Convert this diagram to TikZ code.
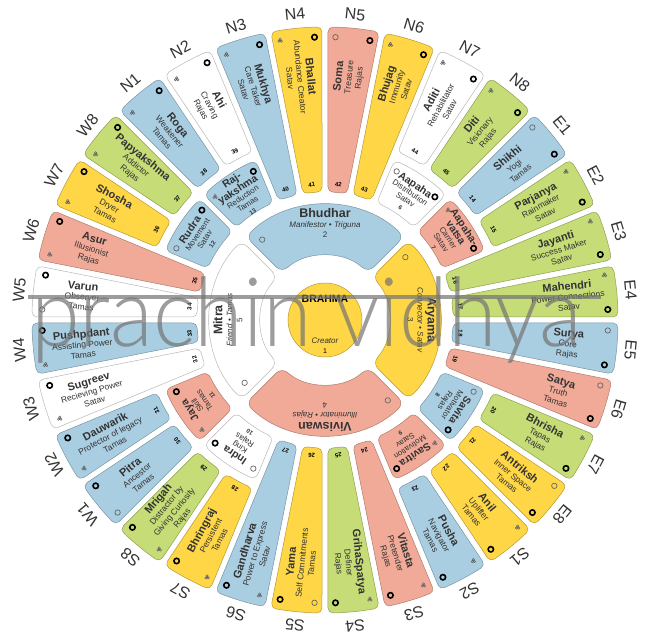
\documentclass[tikz,border=0pt]{standalone}
\usepackage{fontspec}
\setmainfont{Liberation Sans}
\newfontfamily\wmfont{Lato Light}
\definecolor{SegBlue}{RGB}{170,206,225}
\definecolor{SegYellow}{RGB}{254,214,70}
\definecolor{SegRose}{RGB}{242,170,152}
\definecolor{SegGreen}{RGB}{198,220,118}
\definecolor{SegWhite}{RGB}{255,255,255}

\newcommand{\segname}{\fontsize{11}{11}\selectfont\bfseries}
\newcommand{\midname}{\fontsize{10.5}{10}\selectfont\bfseries}
\newcommand{\ringname}{\fontsize{12.5}{12.5}\selectfont\bfseries}
\newcommand{\segno}{\fontsize{6}{6}\selectfont\bfseries}

\newcommand{\vsector}[6]{%
  \filldraw[fill=#5,draw=#5!72!black,line width=.5pt,rounded corners=#6]
    ({#1-#2+asin(3/((#3+#4)/2))}:{(#3+#4)/2}) -- ({#1-#2+asin(3/#4)}:#4)
    arc[start angle={#1-#2+asin(3/#4)},end angle={#1+#2-asin(3/#4)},radius=#4]
    -- ({#1+#2-asin(3/#3)}:#3)
    arc[start angle={#1+#2-asin(3/#3)},end angle={#1-#2+asin(3/#3)},radius=#3]
    -- cycle;}
\newcommand{\cicon}[2]{\draw[line width=1.6pt] ({#1}:#2) circle (2.7);}
\newcommand{\oicon}[2]{\draw[black!60,line width=.7pt] ({#1}:#2) circle (2.7);}
\newcommand{\ticon}[2]{\draw[black!60,line width=.5pt] ({#1}:#2) +(90:1.4) circle (1.1) +(210:1.4) circle (1.1) +(330:1.4) circle (1.1);}

\newcommand{\outerseg}[8]{%
  \vsector{#1}{5.625}{#2}{293}{#3}{5pt}
  \pgfmathsetmacro\txtrot{cos(#1)>=0 ? #1 : #1+180}
  \node[segtext,rotate=\txtrot] (t#6) at ({#1}:244) {{\segname #4}\\#5};
  \node[numtext,rotate=#1-90] (n#6) at ({#1}:{#2+8}) {#6};
  \node[dirlabel,rotate=#1-90] (l#8) at ({#1}:307) {#8};
  \cicon{#1-3.5}{283}
  \if o#7\oicon{#1+3.5}{283}\else\ticon{#1+3.5}{283}\fi}

\newcommand{\midseg}[6]{%
  \vsector{#1}{11.25}{128}{174}{#2}{6pt}
  \node[midtext,rotate=#1-90] (t#5) at ({#1}:150) {#3\\#4\\{\segno #5}};
  \cicon{#1-8}{165}
  \if o#6\oicon{#1+8}{165}\else\ticon{#1+8}{165}\fi}

\newcommand{\ringseg}[5]{%
  \vsector{#1}{45}{64}{115}{#2}{8pt}
  \node[ringtext,rotate=#1-90] (t#5) at ({#1}:97) {{\ringname #3}\\{\itshape #4}\\#5};
  \oicon{#1+38}{102}}

\begin{document}
\begin{tikzpicture}[x=1pt,y=1pt,
  segtext/.style={align=center,inner sep=0pt,text=black!80,font=\fontsize{8.5}{10}\selectfont},
  midtext/.style={align=center,inner sep=0pt,text=black!80,font=\fontsize{8}{8.5}\selectfont},
  ringtext/.style={align=center,inner sep=0pt,text=black!80,font=\fontsize{8}{10}\selectfont},
  numtext/.style={inner sep=0pt,font=\fontsize{6}{6}\selectfont\bfseries},
  dirlabel/.style={inner sep=0pt,text=black!80,font=\fontsize{16}{16}\selectfont}]
\useasboundingbox (-325,-322) rectangle (323,320);

\outerseg{95.625}{128}{SegYellow}{Bhallat}{Abundance Creator\\Satav}{41}{t}{N4}
\outerseg{84.375}{128}{SegRose}{Soma}{Treasure\\Rajas}{42}{o}{N5}
\outerseg{73.125}{128}{SegYellow}{Bhujag}{Immunity\\Satav}{43}{t}{N6}
\outerseg{61.875}{183}{SegWhite}{Aditi}{Rehabilitator\\Satav}{44}{t}{N7}
\outerseg{50.625}{183}{SegGreen}{Diti}{Visionary\\Rajas}{45}{t}{N8}
\outerseg{39.375}{183}{SegBlue}{Shikhi}{Yogi\\Tamas}{14}{o}{E1}
\outerseg{28.125}{183}{SegGreen}{Parjanya}{Rainmaker\\Satav}{15}{t}{E2}
\outerseg{16.875}{128}{SegGreen}{Jayanti}{Success Maker\\Satav}{16}{t}{E3}
\outerseg{5.625}{128}{SegGreen}{Mahendri}{Power Connections\\Satav}{17}{t}{E4}
\outerseg{-5.625}{128}{SegBlue}{Surya}{Core\\Rajas}{18}{o}{E5}
\outerseg{-16.875}{128}{SegRose}{Satya}{Truth\\Tamas}{19}{o}{E6}
\outerseg{-28.125}{183}{SegGreen}{Bhrisha}{Tapas\\Rajas}{20}{t}{E7}
\outerseg{-39.375}{183}{SegYellow}{Antriksh}{Inner Space\\Tamas}{21}{o}{E8}
\outerseg{-50.625}{183}{SegYellow}{Anil}{Uplifter\\Tamas}{22}{t}{S1}
\outerseg{-61.875}{183}{SegBlue}{Pusha}{Navigator\\Tamas}{23}{t}{S2}
\outerseg{-73.125}{128}{SegRose}{Vitasta}{Pretender\\Rajas}{24}{t}{S3}
\outerseg{-84.375}{128}{SegGreen}{GrihaSpatya}{Definer\\Rajas}{25}{t}{S4}
\outerseg{-95.625}{128}{SegYellow}{Yama}{Self Commitments\\Tamas}{26}{o}{S5}
\outerseg{-106.875}{128}{SegBlue}{Gandharva}{Power to Express\\Satav}{27}{t}{S6}
\outerseg{-118.125}{183}{SegYellow}{Bhringraj}{Persistent\\Tamas}{28}{t}{S7}
\outerseg{-129.375}{183}{SegGreen}{Mrigah}{Distractor by\\Giving Curiosity\\Rajas}{29}{t}{S8}
\outerseg{-140.625}{183}{SegBlue}{Pitra}{Ancestor\\Tamas}{30}{o}{W1}
\outerseg{-151.875}{183}{SegBlue}{Dauwarik}{Protector of legacy\\Tamas}{31}{t}{W2}
\outerseg{-163.125}{128}{SegWhite}{Sugreev}{Recieving Power\\Satav}{32}{t}{W3}
\outerseg{-174.375}{128}{SegBlue}{Pushpdant}{Assisting Power\\Tamas}{33}{t}{W4}
\outerseg{174.375}{128}{SegWhite}{Varun}{Observer\\Tamas}{34}{o}{W5}
\outerseg{163.125}{128}{SegRose}{Asur}{Illusionist\\Rajas}{35}{t}{W6}
\outerseg{151.875}{183}{SegYellow}{Shosha}{Dryer\\Tamas}{36}{t}{W7}
\outerseg{140.625}{183}{SegGreen}{Papyakshma}{Addictor\\Rajas}{37}{t}{W8}
\outerseg{129.375}{183}{SegBlue}{Roga}{Weakener\\Tamas}{38}{t}{N1}
\outerseg{118.125}{183}{SegWhite}{Ahi}{Craving\\Rajas}{39}{t}{N2}
\outerseg{106.875}{128}{SegBlue}{Mukhya}{Care Taker\\Satav}{40}{t}{N3}

\midseg{123.75}{SegBlue}{{\midname Raj-}\\{\midname yakshma}}{Reduction\\Tamas}{13}{t}
\midseg{146.25}{SegBlue}{{\midname Rudra}}{Movement\\Satav}{12}{o}
\midseg{56.25}{SegWhite}{{\midname Aapaha}}{Distribution\\Satav}{6}{o}
\midseg{33.75}{SegRose}{{\midname Aapaha-}\\{\midname vatsa}}{Carrier\\Satav}{7}{t}
\midseg{-33.75}{SegBlue}{{\midname Savita}}{Motivator\\Rajas}{8}{o}
\midseg{-56.25}{SegRose}{{\midname Savitra}}{Motivation\\Satav}{9}{t}
\midseg{-123.75}{SegWhite}{{\midname Indra}}{King\\Rajas}{10}{o}
\midseg{-146.25}{SegRose}{{\midname Jaya}}{Skill\\Tamas}{11}{t}

\ringseg{90}{SegBlue}{Bhudhar}{Manifestor \textbullet\ Triguna}{2}
\ringseg{0}{SegYellow}{Aryama}{Connector \textbullet\ Satav}{3}
\ringseg{-90}{SegRose}{Viviswan}{Illuminator \textbullet\ Rajas}{4}
\ringseg{180}{SegWhite}{Mitra}{Friend \textbullet\ Tamas}{5}

\filldraw[fill=SegYellow,draw=SegYellow!72!black,line width=.5pt] (0,0) circle (37);
\node[font=\fontsize{10.5}{10.5}\selectfont\bfseries] (brahma) at (0,21) {BRAHMA};
\node[text=black!80,font=\fontsize{8}{8}\selectfont\itshape] (creator) at (0,-21) {Creator};
\node[numtext,font=\fontsize{7}{7}\selectfont] (n1) at (0,-31) {1};

\draw[black!55,line width=3.5pt,opacity=.7] (-297,23) -- (276,23);
\node[anchor=base west,inner sep=0pt,xscale=.92,text=black!55,opacity=.7,font=\wmfont\fontsize{96}{96}\selectfont] (wm) at (-294,-27) {prachin vidhya};
\end{tikzpicture}
\end{document}
